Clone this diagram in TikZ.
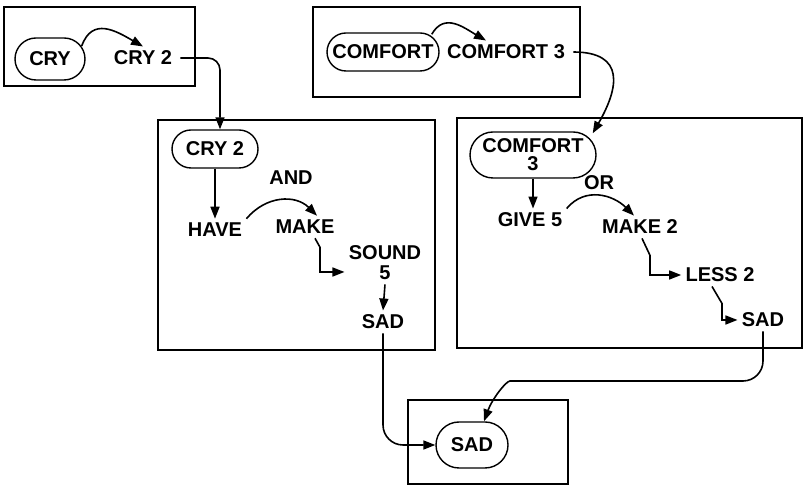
\documentclass[tikz,border=0pt]{standalone}
\usepackage{fontspec}
\setmainfont{Liberation Sans}
\usetikzlibrary{arrows.meta}
\tikzset{
  frame/.style={draw, line width=1.4pt},
  concept/.style={draw, rounded corners=9.5pt, line width=0.7pt, align=center, font=\bfseries,
                  inner xsep=1pt, inner ysep=2pt, minimum height=19pt},
  word/.style={align=center, font=\bfseries, inner sep=2pt},
  joint/.style={font=\bfseries, inner sep=1pt},
  link/.style={-{Triangle[length=6pt, width=4.5pt]}, line width=0.8pt},
}

\begin{document}
\begin{tikzpicture}[x=0.5pt, y=0.5pt]
    \useasboundingbox (0,0) rectangle (808,-490);
    \draw[frame] (4,-7) rectangle (195,-86);
    \draw[frame] (313,-7) rectangle (580,-97);
    \draw[frame] (158,-120) rectangle (435,-350);
    \draw[frame] (457,-118) rectangle (802,-348);
    \draw[frame] (408,-400) rectangle (568,-484);

    \node[concept, minimum width=35pt, minimum height=21pt, rounded corners=10.5pt] (cry) at (50,-59) {CRY};
    \node[word]    (cryTwoW)   at (143,-58)  {CRY 2};
    \node[concept, minimum width=56pt] (comf) at (383,-52) {COMFORT};
    \node[word]    (comfThreeW) at (506,-52) {COMFORT 3};

    \node[concept, minimum width=43pt] (cryTwo) at (215,-149) {CRY 2};
    \node[word]    (have)  at (215,-230) {HAVE};
    \node[word]    (make)  at (305,-227) {MAKE};
    \node[word]    (sound) at (385,-263) {SOUND\\[-2pt]5};
    \node[word]    (sadA)  at (383,-322) {SAD};
    \node[joint]   (andL)  at (291,-178) {AND};

    \node[concept, minimum width=63pt, minimum height=23pt, rounded corners=11.5pt] (comfThree) at (533,-155) {COMFORT\\[-3pt]3};
    \node[word]    (give)    at (530,-220) {GIVE 5};
    \node[word]    (makeTwo) at (640,-227) {MAKE 2};
    \node[word]    (less)    at (720,-275) {LESS 2};
    \node[word]    (sadB)    at (763,-320) {SAD};
    \node[joint]   (orL)     at (599,-183) {OR};

    \node[concept, minimum width=36pt, minimum height=23pt, rounded corners=11.5pt] (sadC) at (472,-445) {SAD};
    \coordinate (elbow) at (530,-381);

    \draw[link] ([xshift=-2pt]cry.20) to[out=70, in=150, looseness=1.3] (cryTwoW.north);
    \draw[link] ([xshift=-4pt, yshift=-1pt]comf.north east) to[out=60, in=150, looseness=1.2] ([xshift=-10pt]comfThreeW.north);
    \draw[link, rounded corners=6pt] ([xshift=2pt]cryTwoW.east) -| ([xshift=2.5pt]cryTwo.north);
    \draw[link] ([xshift=2pt]comfThreeW.east) to[out=0, in=60, looseness=1.6] ([xshift=-2pt, yshift=-1pt]comfThree.north east);

    \draw[link] (cryTwo.south) -- (have.north);
    \draw[link] (have.north east) to[out=50, in=135, looseness=1.1] ([xshift=6pt]make.north);
    \draw[link] ([xshift=5pt]make.south) -- ++(5,-9) |- ([yshift=-4.5pt]sound.west);
    \draw[link] (sound.south) -- (sadA.north);

    \draw[link] (comfThree.south) -- (comfThree.south |- give.north);
    \draw[link] (give.north east) to[out=50, in=135, looseness=1.1] ([xshift=-3pt]makeTwo.north);
    \draw[link] ([xshift=1pt]makeTwo.south) -- ++(8,-17) |- (less.west);
    \draw[link] ([xshift=-4pt]less.south) -- ++(10,-17) |- (sadB.west);

    \draw[link, rounded corners=10pt] (sadA.south) |- (sadC.west);
    \draw[link, rounded corners=10pt] (sadB.south) |- (elbow) to[out=180, in=70] ([xshift=6pt]sadC.north);
\end{tikzpicture}
\end{document}
